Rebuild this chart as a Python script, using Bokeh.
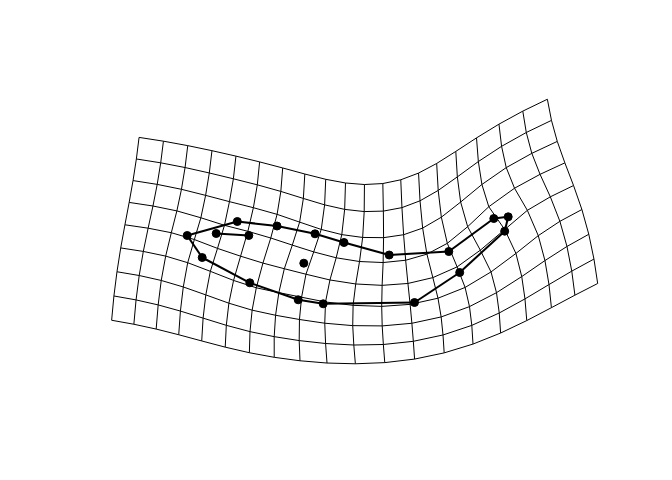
import numpy as np
from bokeh.plotting import figure
from bokeh.models import Range1d
from bokeh.embed import file_html
from bokeh.resources import INLINE

# Target landmark configuration (plot coordinates)
target_x = [186.7, 215.7, 248.3, 236.8, 276.5, 314.5, 343.5, 388.7, 448.3, 493.3,
            507.7, 504.2, 459.2, 414.0, 322.7, 297.7, 249.3, 201.7, 303.3]
target_y = [235.0, 233.0, 235.0, 221.0, 225.5, 233.3, 242.0, 254.5, 251.0, 218.0,
            216.3, 230.7, 272.0, 302.0, 303.3, 299.3, 282.3, 257.0, 262.7]

# Reference landmark configuration (in grid-cell units)
ref_u = [2.67, 3.75, 5.08, 4.49, 6.11, 7.77, 9.17, 11.26, 13.95, 15.96,
         16.32, 15.97, 14.00, 12.16, 8.92, 7.87, 5.68, 3.54, 7.78]
ref_v = [3.94, 3.42, 3.15, 2.72, 2.47, 2.25, 2.30, 2.70, 3.30, 3.49,
         3.78, 4.04, 4.26, 4.94, 5.10, 5.14, 4.87, 4.59, 3.58]

# Wireframe links between landmarks
links = [(0, 3), (3, 4), (4, 5), (5, 6), (6, 7), (7, 8), (8, 9), (9, 10), (10, 11),
         (11, 12), (12, 13), (13, 14), (14, 15), (15, 16), (16, 17), (17, 0), (1, 2)]

n_cols = 20
n_rows = 9

R = np.column_stack([ref_u, ref_v])
T = np.column_stack([target_x, target_y])


def U(r2):
    safe = np.where(r2 > 0, r2, 1.0)
    return np.where(r2 > 0, r2 * np.log(safe), 0.0)


def tps_fit(R, T):
    n = len(R)
    d = R[:, None, :] - R[None, :, :]
    K = U((d ** 2).sum(-1))
    P = np.hstack([np.ones((n, 1)), R])
    L = np.zeros((n + 3, n + 3))
    L[:n, :n] = K
    L[:n, n:] = P
    L[n:, :n] = P.T
    rhs = np.vstack([T, np.zeros((3, 2))])
    return np.linalg.solve(L, rhs)


def tps_eval(X, R, sol):
    n = len(R)
    d = X[:, None, :] - R[None, :, :]
    Um = U((d ** 2).sum(-1))
    return Um @ sol[:n] + sol[n] + X[:, 0:1] * sol[n + 1] + X[:, 1:2] * sol[n + 2]


sol = tps_fit(R, T)
lattice = np.column_stack([np.tile(np.arange(float(n_cols)), n_rows),
                           np.repeat(np.arange(float(n_rows)), n_cols)])
G = tps_eval(lattice, R, sol).reshape(n_rows, n_cols, 2)

xs = [list(G[j, :, 0]) for j in range(n_rows)] + [list(G[:, i, 0]) for i in range(n_cols)]
ys = [list(G[j, :, 1]) for j in range(n_rows)] + [list(G[:, i, 1]) for i in range(n_cols)]

p = figure(width=672, height=480, output_backend="svg", toolbar_location=None,
           min_border=0, x_range=Range1d(0, 672), y_range=Range1d(480, 0))
p.axis.visible = False
p.grid.visible = False
p.outline_line_color = None
p.background_fill_color = "white"
p.border_fill_color = "white"

p.multi_line(xs, ys, line_color="black", line_width=1)
p.multi_line([[target_x[a], target_x[b]] for a, b in links],
             [[target_y[a], target_y[b]] for a, b in links],
             line_color="black", line_width=2)
p.scatter(target_x, target_y, size=8, color="black")

open("out.html", "w").write(file_html(p, INLINE))
